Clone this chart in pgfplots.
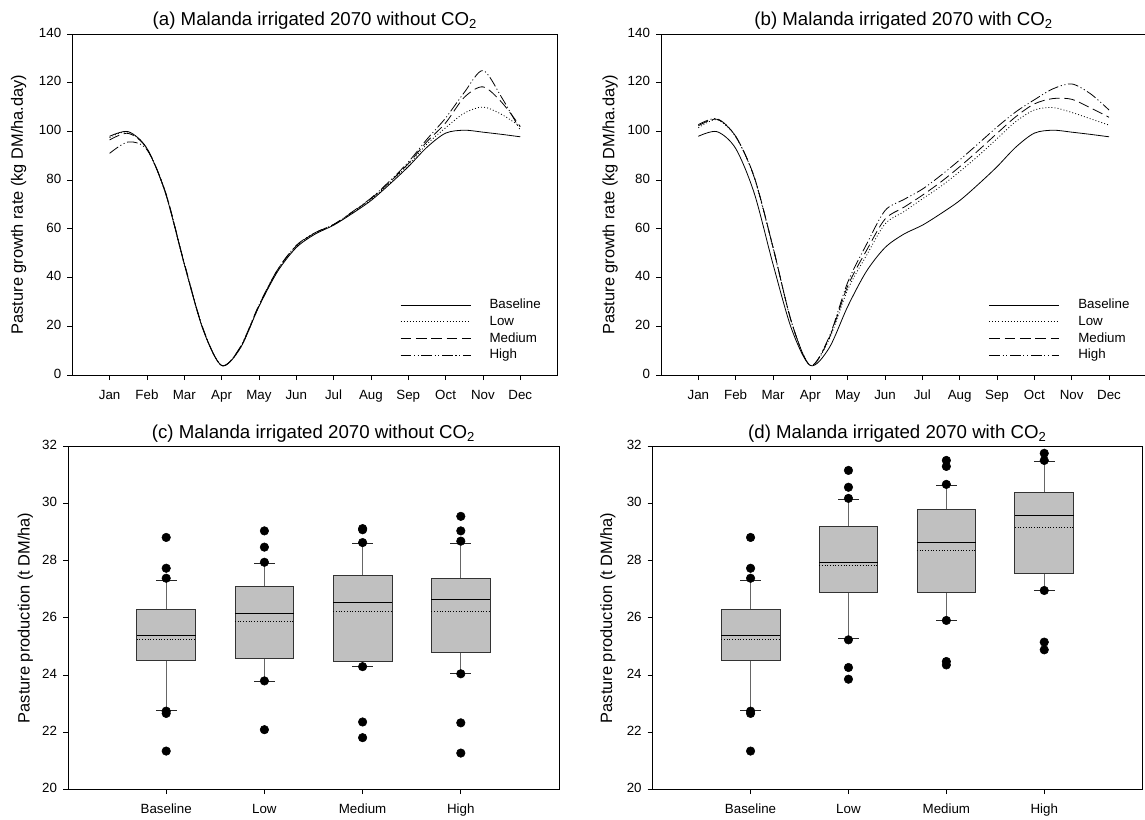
\documentclass[border=0pt]{standalone}
\usepackage{pgfplots}
\pgfplotsset{compat=1.18}
\usepackage{pgfplotstable}
\usepackage{fontspec}
\setmainfont{Liberation Sans}

\definecolor{boxfill}{RGB}{192,192,192}

% Monthly pasture growth rate (kg DM/ha.day), Jan = 1 ... Dec = 12
\pgfplotstableread{
m    base  low   med   high
1    98.0  97.5  96.5  91.0
1.5  99.9  99.8  99.2  95.7
2    93.0  93.0  93.0  92.5
2.5  74.5  74.5  74.8  75.0
3    45.5  45.5  45.8  46.0
3.5  18.8  18.8  19.0  19.2
4     3.9   3.9   3.9   3.9
4.5  11.0  11.0  11.3  11.5
5    28.1  28.2  28.5  28.7
5.5  42.5  42.8  43.2  43.3
6    52.3  52.6  53.0  53.2
6.5  57.8  58.0  58.3  58.4
7    61.5  61.6  61.8  61.8
7.5  66.3  66.5  66.8  67.0
8    71.6  72.0  72.4  72.6
8.5  78.3  78.8  79.2  79.6
9    85.5  86.2  86.8  87.4
9.5  93.5  94.8  95.8  96.8
10   99.3 101.5 103.5 105.5
10.5 100.5 107.5 114.0 116.0
11   99.7 110.0 118.3 125.0
11.5 98.8 107.0 112.0 114.0
12   97.8 102.0 102.0 100.5
}\growthA

\pgfplotstableread{
m    base  low   med   high
1    98.0 101.5 102.3 102.8
1.5  99.9 104.8 105.0 105.2
2    93.0  97.8  98.0  98.0
2.5  74.5  81.0  81.2  81.0
3    45.5  52.0  52.5  52.5
3.5  18.8  21.5  21.5  21.5
4     3.9   3.9   3.9   3.9
4.5  11.0  14.5  15.0  15.5
5    28.1  35.0  36.5  38.0
5.5  42.5  49.0  51.0  53.5
6    52.3  62.0  64.0  67.5
6.5  57.8  67.0  68.8  72.0
7    61.5  72.3  73.8  76.3
7.5  66.3  77.5  79.3  82.0
8    71.6  83.5  85.5  88.3
8.5  78.3  90.0  92.2  95.0
9    85.5  97.0  99.2 101.8
9.5  93.5 104.0 106.0 108.0
10   99.3 108.8 111.3 113.0
10.5 100.5 109.8 113.5 117.5
11   99.7 107.8 113.2 119.5
11.5 98.8 105.2 109.7 115.5
12   97.8 102.6 105.8 108.8
}\growthB

\pgfplotsset{
  panel/.style={
    scale only axis,
    axis line style={line width=0.6pt},
    tick align=outside,
    xtick pos=left, ytick pos=left,
    major tick length=3.75pt,
    tick style={line width=0.6pt, black},
    tick label style={font=\fontsize{10}{12}\selectfont},
    typeset ticklabels with strut,
    xticklabel style={yshift=-3pt},
    yticklabel style={xshift=-1pt},
    /pgf/number format/assume math mode=true,
    title style={font=\fontsize{14}{16}\selectfont, at={(0.5,1)}, anchor=base},
    ylabel style={font=\fontsize{12.3}{14}\selectfont, anchor=base},
  },
  growth/.style={
    panel,
    width=364pt, height=255.75pt,
    xmin=0, xmax=13, ymin=0, ymax=140,
    xtick={1,...,12},
    xticklabels={Jan,Feb,Mar,Apr,May,Jun,Jul,Aug,Sep,Oct,Nov,Dec},
    ytick={0,20,...,140},
    ylabel={Pasture growth rate (kg DM/ha.day)},
    legend image code/.code={\draw[##1] (0pt,0pt) -- (52.5pt,0pt);},
    legend cell align=left,
    legend style={draw=none, fill=none, at={(0.675,0.223)}, anchor=north west,
      inner sep=0pt, row sep=3.9pt,
      nodes={font=\fontsize{10}{12}\selectfont, inner sep=0pt},
      /tikz/every odd column/.append style={column sep=14pt}},
  },
  sbase/.style={black, line width=0.6pt, solid, smooth},
  slow/.style={black, line width=0.6pt, dash pattern=on 0.7pt off 1.6pt, smooth},
  smed/.style={black, line width=0.6pt, dash pattern=on 8pt off 3.5pt, smooth},
  shigh/.style={black, line width=0.6pt, dash pattern=on 8pt off 2pt on 0.8pt off 2pt on 0.8pt off 2pt, smooth},
  boxpanel/.style={
    panel,
    width=368.25pt, height=256.7pt,
    xmin=0, xmax=5, ymin=20, ymax=32,
    xtick={1,2,3,4},
    xticklabels={Baseline,Low,Medium,High},
    ytick={20,22,...,32},
    ylabel={Pasture production (t DM/ha)},
  },
  whisk/.style={draw=black!60, line width=0.6pt},
  cap/.style={draw=black!85, line width=0.6pt},
  boxst/.style={draw=black!80, fill=boxfill, line width=0.6pt},
  medst/.style={draw=black, line width=0.6pt},
  meanst/.style={draw=black, line width=0.6pt, dash pattern=on 0.75pt off 1.3pt},
  outl/.style={only marks, mark=*, mark size=3.2pt, mark options={solid, fill=black, draw=black}},
}

% one box: position, lower whisker, lower quartile, median, upper quartile, upper whisker, mean
\newcommand{\boxat}[7]{%
  \pgfmathsetmacro\bxl{#1-0.3}\pgfmathsetmacro\bxr{#1+0.3}%
  \pgfmathsetmacro\cxl{#1-0.105}\pgfmathsetmacro\cxr{#1+0.105}%
  \edef\doonebox{%
    \noexpand\addplot[whisk] coordinates {(#1,#2) (#1,#3)};
    \noexpand\addplot[whisk] coordinates {(#1,#5) (#1,#6)};
    \noexpand\addplot[cap] coordinates {(\cxl,#2) (\cxr,#2)};
    \noexpand\addplot[cap] coordinates {(\cxl,#6) (\cxr,#6)};
    \noexpand\addplot[boxst] coordinates {(\bxl,#3) (\bxr,#3) (\bxr,#5) (\bxl,#5)} -- cycle;
    \noexpand\addplot[medst] coordinates {(\bxl,#4) (\bxr,#4)};
    \noexpand\addplot[meanst] coordinates {(\bxl,#7) (\bxr,#7)};
  }\doonebox}

\begin{document}
\begin{tikzpicture}
% (a) growth rate, without CO2
\begin{axis}[growth, at={(54.2pt,333pt)}, anchor=south west,
  title={(a) Malanda irrigated 2070 without CO\textsubscript{2}},
  ylabel style={at={(axis description cs:-0.102,0.5)}}]
\addplot[sbase] table[x=m,y=base] {\growthA}; \addlegendentry{Baseline}
\addplot[slow]  table[x=m,y=low]  {\growthA}; \addlegendentry{Low}
\addplot[smed]  table[x=m,y=med]  {\growthA}; \addlegendentry{Medium}
\addplot[shigh] table[x=m,y=high] {\growthA}; \addlegendentry{High}
\end{axis}

% (b) growth rate, with CO2
\begin{axis}[growth, at={(495.75pt,333pt)}, anchor=south west,
  title={(b) Malanda irrigated 2070 with CO\textsubscript{2}},
  ylabel style={at={(axis description cs:-0.096,0.5)}}]
\addplot[sbase] table[x=m,y=base] {\growthB}; \addlegendentry{Baseline}
\addplot[slow]  table[x=m,y=low]  {\growthB}; \addlegendentry{Low}
\addplot[smed]  table[x=m,y=med]  {\growthB}; \addlegendentry{Medium}
\addplot[shigh] table[x=m,y=high] {\growthB}; \addlegendentry{High}
\end{axis}

% (c) annual production, without CO2
\begin{axis}[boxpanel, at={(51pt,22.5pt)}, anchor=south west,
  title={(c) Malanda irrigated 2070 without CO\textsubscript{2}},
  ylabel style={at={(axis description cs:-0.078,0.5)}}]
\boxat{1}{22.76}{24.51}{25.39}{26.30}{27.31}{25.26}
\boxat{2}{23.79}{24.57}{26.14}{27.11}{27.91}{25.87}
\boxat{3}{24.29}{24.49}{26.56}{27.50}{28.61}{26.22}
\boxat{4}{24.04}{24.78}{26.65}{27.38}{28.61}{26.22}
\addplot[outl] coordinates {
  (1,28.82) (1,27.74) (1,27.39) (1,22.73) (1,22.65) (1,21.33)
  (2,29.05) (2,28.48) (2,27.95) (2,23.79) (2,22.08)
  (3,29.13) (3,29.09) (3,28.64) (3,24.29) (3,22.35) (3,21.80)
  (4,29.56) (4,29.05) (4,28.69) (4,24.04) (4,22.32) (4,21.26)};
\end{axis}

% (d) annual production, with CO2
\begin{axis}[boxpanel, at={(489.5pt,22.5pt)}, anchor=south west,
  width=367.1pt,
  title={(d) Malanda irrigated 2070 with CO\textsubscript{2}},
  ylabel style={at={(axis description cs:-0.083,0.5)}}]
\boxat{1}{22.76}{24.51}{25.39}{26.30}{27.31}{25.26}
\boxat{2}{25.29}{26.90}{27.95}{29.20}{30.14}{27.84}
\boxat{3}{25.91}{26.88}{28.65}{29.81}{30.65}{28.37}
\boxat{4}{26.96}{27.57}{29.59}{30.40}{31.47}{29.16}
\addplot[outl] coordinates {
  (1,28.82) (1,27.74) (1,27.39) (1,22.73) (1,22.65) (1,21.33)
  (2,31.17) (2,30.58) (2,30.19) (2,25.23) (2,24.26) (2,23.85)
  (3,31.52) (3,31.31) (3,30.68) (3,25.91) (3,24.47) (3,24.35)
  (4,31.77) (4,31.52) (4,26.96) (4,25.15) (4,24.88)};
\end{axis}

% page extent; the right frame edge of panel (b) falls just outside it
\pgfresetboundingbox
\path[use as bounding box] (0,0) rectangle (858.75pt,614.25pt);
\end{tikzpicture}
\end{document}
